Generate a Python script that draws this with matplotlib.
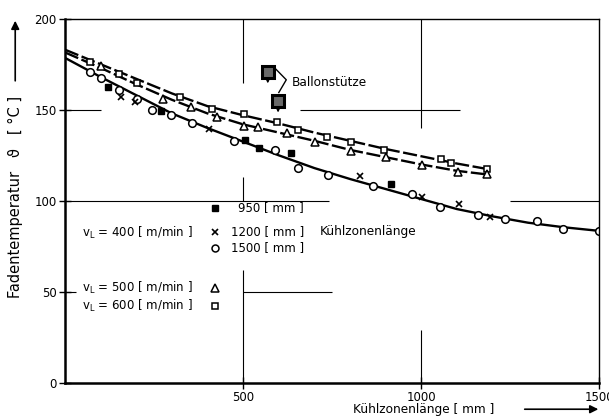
import matplotlib
matplotlib.use('Agg')
import matplotlib.pyplot as plt
import numpy as np

plt.rcParams['font.family'] = ['Liberation Sans Narrow', 'DejaVu Sans Condensed', 'DejaVu Sans']

# measured points (Kühlzonenlänge mm, temperature °C)
sq600_x = [71, 152, 202, 323, 412, 503, 595, 654, 736, 803, 896, 1056, 1084, 1185]
sq600_y = [176.4, 169.8, 164.8, 157.1, 150.5, 147.8, 143.4, 139, 135.2, 132.4, 128, 123.1, 120.9, 117.6]

tri500_x = [102, 275, 353, 426, 502, 541, 623, 701, 803, 901, 1002, 1103, 1185]
tri500_y = [174.2, 156, 151.6, 146.2, 141.2, 140.7, 137.4, 132.4, 127.5, 124.2, 119.8, 115.9, 114.8]

c1500_x = [70, 101, 151, 201, 243, 296, 355, 473, 588, 655, 739, 865, 975, 1053, 1160, 1236, 1324, 1399, 1500]
c1500_y = [170.9, 167.6, 161, 156, 150, 147.3, 142.9, 133, 128, 118, 114.3, 108.2, 103.8, 96.7, 92.3, 90.1, 89, 84.6, 83.5]

f950_x = [120, 268, 504, 543, 633, 916]
f950_y = [162.6, 149.5, 133.5, 129.1, 126.4, 109.3]

x1200_x = [156, 195, 403, 829, 1003, 1107, 1194]
x1200_y = [157, 154.4, 139.6, 113.7, 102.2, 98.4, 91.2]

ballon_x = [569, 598]
ballon_y = [171, 155]

# curves
c600_x = [0, 100, 200, 300, 400, 500, 600, 700, 800, 900, 1000, 1100, 1185]
c600_y = [183, 175, 167, 159, 152, 147, 142.5, 137.5, 133, 128.5, 124.5, 120.5, 117.5]
c500_x = [0, 100, 200, 300, 400, 500, 600, 700, 800, 900, 1000, 1100, 1185]
c500_y = [181.5, 173, 164, 155.5, 148, 142, 137.5, 133, 128, 124, 120, 116.5, 114.5]
c400_x = [0, 100, 200, 300, 400, 500, 600, 700, 800, 900, 1000, 1100, 1200, 1300, 1400, 1500]
c400_y = [178.5, 168, 158, 148, 140, 132.5, 125, 118, 112, 106.5, 101, 95.5, 91.5, 88, 85.5, 83.5]

fig = plt.figure(figsize=(6.09, 4.18), dpi=100)
ax = fig.add_axes([0.107, 0.084, 0.877, 0.871])

ax.plot(c600_x, c600_y, color='black', lw=1.7, dashes=(6, 1.5))
ax.plot(c500_x, c500_y, color='black', lw=1.7, dashes=(6, 1.5))
ax.plot(c400_x, c400_y, color='black', lw=1.7)

ms = dict(color='black', ls='none')
ax.plot(sq600_x, sq600_y, marker='s', ms=5, mfc='white', mew=1.1, **ms)
ax.plot(tri500_x, tri500_y, marker='^', ms=5.5, mfc='white', mew=1.1, **ms)
ax.plot(c1500_x, c1500_y, marker='o', ms=5.5, mfc='white', mew=1.1, **ms)
ax.plot(f950_x, f950_y, marker='s', ms=5, mfc='black', **ms)
ax.plot(x1200_x, x1200_y, marker='x', ms=4, mew=1.2, **ms)
ax.plot(ballon_x, ballon_y, marker='s', ms=8, mfc='dimgray', mec='black', mew=2.2, **ms)

# Ballonstütze annotation
for bx, by in zip(ballon_x, ballon_y):
    ax.annotate('', xy=(bx, by - 8), xytext=(bx, by - 3),
                arrowprops=dict(arrowstyle='-|>', color='black', lw=1, mutation_scale=6))
ax.plot([ballon_x[0] + 22, ballon_x[0] + 52, ballon_x[1] + 2],
        [ballon_y[0] + 1.5, ballon_y[0] - 4.5, ballon_y[1] + 4.5], color='black', lw=1)
ax.text(635, 165, 'Ballonstütze', fontsize=8.7, va='center', ha='left')

# partial grid lines as in the original sheet
grid = dict(color='black', lw=0.8)
ax.hlines(150, 0, 100, **grid)
ax.hlines(150, 660, 1110, **grid)
ax.hlines(100, 0, 740, **grid)
ax.hlines(100, 1250, 1500, **grid)
ax.hlines(50, 500, 750, **grid)
ax.hlines(50, 0, 30, **grid)
ax.vlines(500, 165, 200, **grid)
ax.vlines(500, 100, 113, **grid)
ax.vlines(500, 0, 62, **grid)
ax.vlines(1000, 140, 200, **grid)
ax.vlines(1000, 0, 29, **grid)

ax.set_xlim(0, 1500)
ax.set_ylim(0, 200)
ax.set_xticks([500, 1000, 1500])
ax.set_yticks([0, 50, 100, 150, 200])
ax.tick_params(direction='inout', length=8, width=1, labelsize=8.5, pad=2)
for side in ['left', 'bottom']:
    ax.spines[side].set_linewidth(1.8)
for side in ['top', 'right']:
    ax.spines[side].set_linewidth(1.0)

# legend written into the plot
lx = 0.281
ax.plot([lx], [0.481], transform=ax.transAxes, marker='s', ms=5, mfc='black', **ms)
ax.plot([lx], [0.415], transform=ax.transAxes, marker='x', ms=4, mew=1.2, **ms)
ax.plot([lx], [0.371], transform=ax.transAxes, marker='o', ms=5, mfc='white', mew=1.1, **ms)
ax.plot([lx], [0.261], transform=ax.transAxes, marker='^', ms=5.5, mfc='white', mew=1.1, **ms)
ax.plot([lx], [0.2115], transform=ax.transAxes, marker='s', ms=5, mfc='white', mew=1.1, **ms)
lab = dict(transform=ax.transAxes, fontsize=8.5, va='center')
ax.text(0.447, 0.481, '950 [ mm ]', ha='right', **lab)
ax.text(0.447, 0.415, '1200 [ mm ]', ha='right', **lab)
ax.text(0.447, 0.371, '1500 [ mm ]', ha='right', **lab)
ax.text(0.477, 0.415, 'Kühlzonenlänge', ha='left', fontsize=8.7, transform=ax.transAxes, va='center')
ax.text(0.032, 0.412, r'v$_\mathregular{L}$ = 400 [ m/min ]', ha='left', **lab)
ax.text(0.032, 0.261, r'v$_\mathregular{L}$ = 500 [ m/min ]', ha='left', **lab)
ax.text(0.032, 0.2115, r'v$_\mathregular{L}$ = 600 [ m/min ]', ha='left', **lab)

# axis titles with arrows
fig.text(0.025, 0.53, 'Fadentemperatur   ϑ   [ °C ]', rotation=90, ha='center', va='center', fontsize=10.5)
fig.text(0.695, 0.021, 'Kühlzonenlänge [ mm ]', ha='center', va='center', fontsize=8.7)
fig.add_artist(matplotlib.patches.FancyArrowPatch((0.025, 0.80), (0.025, 0.957), transform=fig.transFigure,
               arrowstyle='-|>', mutation_scale=12, color='black', lw=1.2))
fig.add_artist(matplotlib.patches.FancyArrowPatch((0.857, 0.021), (0.987, 0.021), transform=fig.transFigure,
               arrowstyle='-|>', mutation_scale=12, color='black', lw=1.2))

fig.savefig('out.png', dpi=100)
